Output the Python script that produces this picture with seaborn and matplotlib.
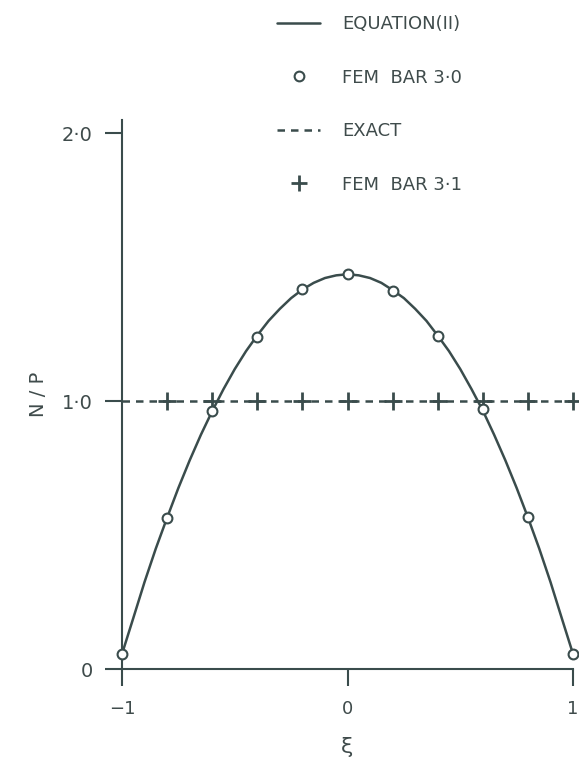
import matplotlib
matplotlib.use("Agg")
import matplotlib.pyplot as plt
from matplotlib.lines import Line2D
import seaborn as sns
import pandas as pd

# ---- data ----
curve_xi = [-1.0, -0.95, -0.9, -0.85, -0.8, -0.75, -0.7, -0.65, -0.6, -0.55, -0.5,
            -0.45, -0.4, -0.35, -0.3, -0.25, -0.2, -0.15, -0.1, -0.05, 0.0,
            0.05, 0.1, 0.15, 0.2, 0.25, 0.3, 0.35, 0.4, 0.45, 0.5,
            0.55, 0.6, 0.65, 0.7, 0.75, 0.8, 0.85, 0.9, 0.95, 1.0]
curve_np = [0.056, 0.19, 0.325, 0.45, 0.565, 0.676, 0.779, 0.875, 0.963, 1.045, 1.12,
            1.187, 1.246, 1.30, 1.345, 1.385, 1.417, 1.442, 1.46, 1.47, 1.474,
            1.47, 1.46, 1.442, 1.415, 1.385, 1.345, 1.30, 1.245, 1.187, 1.12,
            1.045, 0.965, 0.875, 0.779, 0.676, 0.566, 0.45, 0.325, 0.19, 0.056]

fem30_xi = [-1.0, -0.8, -0.6, -0.4, -0.2, 0.0, 0.2, 0.4, 0.6, 0.8, 1.0]
fem30_np = [0.056, 0.563, 0.962, 1.239, 1.418, 1.474, 1.41, 1.243, 0.972, 0.567, 0.056]

exact_xi = [-1.0, 1.0]
exact_np = [1.0, 1.0]

fem31_xi = [-0.8, -0.6, -0.4, -0.2, 0.0, 0.2, 0.4, 0.6, 0.8, 1.0]
fem31_np = [1.0, 1.0, 1.0, 1.0, 1.0, 1.0, 1.0, 1.0, 1.0, 1.0]

yticks = [0, 1.0, 2.0]
ytick_labels = ["0", "1·0", "2·0"]
xticks = [-1, 0, 1]
xtick_labels = ["\u22121", "0", "1"]
legend_labels = ["EQUATION(II)", "FEM  BAR 3·0", "EXACT", "FEM  BAR 3·1"]

# ---- style ----
sns.set_style("white")
plt.rcParams["font.family"] = ["DejaVu Sans"]
INK = "#3a4c4c"
TXT = "#3f4b4b"
LW = 1.8
DASH = (3.0, 2.4)

fig = plt.figure(figsize=(5.79, 7.62), dpi=100)
ax = fig.add_axes([0.2107, 0.122, 0.779, 0.7205])

df_curve = pd.DataFrame({"xi": curve_xi, "np": curve_np})
df_exact = pd.DataFrame({"xi": exact_xi, "np": exact_np})
df30 = pd.DataFrame({"xi": fem30_xi, "np": fem30_np})
df31 = pd.DataFrame({"xi": fem31_xi, "np": fem31_np})

sns.lineplot(data=df_exact, x="xi", y="np", ax=ax, color=INK, lw=LW,
             dashes=False, sort=False, zorder=2)
ax.lines[-1].set_dashes(DASH)
sns.lineplot(data=df_curve, x="xi", y="np", ax=ax, color=INK, lw=LW,
             sort=False, zorder=3)
sns.scatterplot(data=df31, x="xi", y="np", ax=ax, marker="+", s=150,
                color=INK, linewidth=2.0, zorder=4, clip_on=False)
sns.scatterplot(data=df30, x="xi", y="np", ax=ax, marker="o", s=50,
                facecolor="white", edgecolor=INK, linewidth=1.5, zorder=5,
                clip_on=False)

ax.set_xlim(-1, 1)
ax.set_ylim(0, 2.05)
for s in ["top", "right"]:
    ax.spines[s].set_visible(False)
for s in ["left", "bottom"]:
    ax.spines[s].set_color(INK)
    ax.spines[s].set_linewidth(1.5)

ax.set_xticks(xticks)
ax.set_xticklabels(xtick_labels)
ax.set_yticks(yticks)
ax.set_yticklabels(ytick_labels)
ax.tick_params(axis="both", direction="out", length=12, width=1.5, color=INK,
               labelsize=13, labelcolor=TXT, left=True, bottom=True)
ax.tick_params(axis="y", pad=9, labelsize=14)
ax.tick_params(axis="x", pad=10)

ax.set_xlabel("\u03be", fontsize=16, color=TXT, labelpad=14)
ax.set_ylabel("N / P", fontsize=14, color=TXT, labelpad=10)

handles = [
    Line2D([0], [0], color=INK, lw=LW),
    Line2D([0], [0], color=INK, lw=0, marker="o", markersize=7,
           markerfacecolor="white", markeredgecolor=INK, markeredgewidth=1.5),
    Line2D([0], [0], color=INK, lw=LW, dashes=DASH),
    Line2D([0], [0], color=INK, lw=0, marker="+", markersize=12,
           markeredgewidth=2.0),
]
leg = fig.legend(handles, legend_labels, loc="upper left",
                 bbox_to_anchor=(277 / 579, 1 - 15 / 762),
                 frameon=False, fontsize=13, labelspacing=1.97,
                 handlelength=2.4, handletextpad=1.2, borderpad=0,
                 borderaxespad=0, numpoints=1, labelcolor=TXT)

fig.savefig("out.png", dpi=100, facecolor="white")
